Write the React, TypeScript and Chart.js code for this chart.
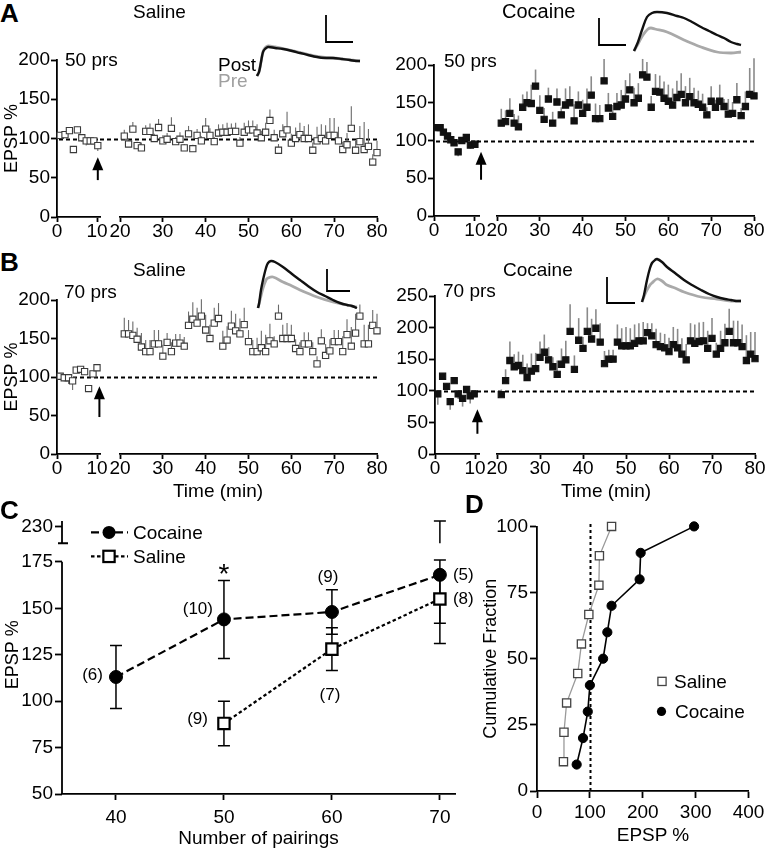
import React, { useEffect, useRef } from "react";
import { Chart, registerables } from "chart.js";

Chart.register(...registerables);

const FONT = "'Liberation Sans', Arial, Helvetica, sans-serif";
Chart.defaults.font.family = FONT;

// ===================== DATA =====================
// time bins (min) after pairing, shared by the four time courses
const T_RIGHT = Array.from({ length: 60 }, (_, i) => 21 + i);
const TICKS_LEFT = [0, 10];
const TICKS_RIGHT = [20, 30, 40, 50, 60, 70, 80];
const Y_TICKS_200 = [0, 50, 100, 150, 200];
const Y_TICKS_250 = [0, 50, 100, 150, 200, 250];

// A – Saline, 50 pairings
const A_SAL_BASE_T = [0.8, 2, 3.1, 4.1, 5.1, 6.2, 7.3, 8.3, 9.2, 10.2];
const A_SAL_BASE_V = [104, 105, 110, 86, 111, 101, 97, 97, 97, 91];
const A_SAL_BASE_E = [3, 3, 4, -4, 4, -5, -6, -4, -4, -7];
const A_SAL_POST_V = [103, 93, 112, 91, 88, 109, 109, 100, 114, 97, 99, 113, 96, 99, 88, 106, 87, 104, 97, 112, 104, 96, 107, 108, 108, 109, 109, 94, 108, 111, 111, 107, 101, 108, 123, 101, 85, 106, 111, 94, 100, 105, 100, 100, 85, 97, 100, 97, 104, 104, 97, 86, 92, 113, 85, 96, 86, 90, 70, 82];
const A_SAL_POST_E = [8, 6, 9, 5, 7, 8, 10, 6, 11, 7, 8, 14, 6, 9, 5, 10, 5, 8, 6, 14, 9, 6, 11, 10, 12, 10, 11, 8, 12, 12, 12, 11, 9, 12, 14, 10, 8, 12, 23, 12, 14, 15, 16, 18, 10, 18, 18, 20, 22, 22, 18, 10, 15, 28, 12, 20, 35, 22, 10, 15];

// A – Cocaine, 50 pairings
const A_COC_BASE_T = [0.7, 1.5, 2.3, 3.3, 4.1, 4.9, 5.9, 6.8, 7.9, 8.9, 10];
const A_COC_BASE_V = [117, 117, 111, 106, 101, 97, 85, 100, 104, 94, 95];
const A_COC_BASE_E = [3, 3, 3, 3, 3, -4, -6, 3, 3, -5, -4];
const A_COC_POST_V = [123, 125, 136, 123, 118, 144, 150, 149, 172, 140, 128, 155, 123, 151, 134, 147, 150, 126, 147, 136, 144, 160, 129, 129, 179, 143, 132, 145, 147, 155, 167, 150, 156, 187, 184, 144, 165, 164, 156, 152, 147, 157, 161, 150, 158, 150, 148, 144, 134, 152, 144, 152, 145, 135, 136, 154, 133, 145, 161, 159];
const A_COC_POST_E = [19, 15, 20, 12, 15, 17, 15, 25, 22, 20, 15, 15, 15, 18, 10, 22, 22, 22, 18, 18, 25, 25, 20, 18, 29, 20, 15, 18, 20, 25, 22, 20, 20, 21, 20, 15, 23, 22, 22, 22, 22, 22, 28, 22, 25, 20, 18, 18, 10, 20, 10, 22, 10, 20, 15, 22, 10, 20, 35, 50];

// B – Saline, 70 pairings
const B_SAL_BASE_T = [0.8, 1.8, 2.9, 3.9, 4.8, 5.9, 6.9, 7.9, 9, 10];
const B_SAL_BASE_V = [101, 99, 99, 95, 109, 110, 107, 85, 104, 112];
const B_SAL_BASE_E = [-3, -5, -8, -12, 3, 3, -4, -4, 3, 3];
const B_SAL_POST_V = [156, 156, 154, 149, 139, 133, 133, 143, 143, 127, 145, 133, 144, 144, 140, 167, 175, 170, 179, 161, 150, 170, 176, 140, 148, 166, 160, 156, 168, 146, 133, 133, 138, 133, 147, 143, 179, 150, 150, 150, 137, 133, 143, 143, 133, 117, 147, 128, 134, 146, 146, 133, 155, 140, 157, 179, 143, 143, 167, 160];
const B_SAL_POST_E = [21, 18, 18, 15, 18, 15, 15, 18, 18, 15, 12, 12, 12, 12, 12, 18, 22, 20, 22, 20, 18, 20, 20, 20, 18, 20, 22, 20, 22, 15, 15, 18, 22, 22, 22, 10, 15, 18, 20, 18, 12, 12, 15, 15, 12, 10, 15, 15, 15, 15, 15, 20, 20, 25, 25, 15, 25, 25, 20, 22];

// B – Cocaine, 70 pairings
const B_COC_BASE_T = [0.7, 1.9, 2.9, 3.8, 4.8, 5.8, 6.9, 7.9, 8.8, 9.8];
const B_COC_BASE_V = [95, 123, 107, 83, 116, 95, 88, 102, 92, 95];
const B_COC_BASE_E = [-17, 5, 5, -13, 5, -8, -13, 5, -12, -5];
const B_COC_POST_V = [94, 116, 148, 138, 140, 132, 121, 131, 135, 153, 161, 149, 138, 126, 142, 149, 194, 134, 180, 167, 194, 182, 199, 177, 143, 150, 150, 177, 171, 171, 171, 175, 179, 179, 192, 187, 173, 170, 168, 162, 173, 168, 158, 149, 179, 175, 178, 179, 167, 183, 158, 167, 176, 194, 176, 176, 170, 148, 158, 151];
const B_COC_POST_E = [8, 18, 30, 20, 22, 25, 22, 28, 25, 25, 28, 20, 15, 22, 25, 30, 43, 22, 35, 18, 38, 32, 30, 30, 20, 15, 15, 28, 28, 30, 28, 30, 28, 30, 15, 20, 25, 22, 22, 22, 28, 30, 25, 25, 28, 30, 30, 30, 28, 32, 18, 28, 30, 36, 35, 35, 35, 40, 35, 42];

// Example EPSP traces (time in ms, amplitude in mV) + scale bars
const TR_AS_POST_T = [7, 9, 11, 13, 15, 18, 25, 33, 42, 50, 58, 67, 75, 83, 92, 100, 106, 110];
const TR_AS_POST_A = [0.4, 0.8, 1.8, 2.8, 3.1, 3.3, 3.2, 3.1, 2.9, 2.7, 2.5, 2.3, 2.2, 2.2, 2.1, 2.0, 1.9, 1.9];
const TR_AS_PRE_T = TR_AS_POST_T;
const TR_AS_PRE_A = [0.4, 0.8, 1.8, 2.8, 3.2, 3.4, 3.3, 3.15, 2.95, 2.75, 2.55, 2.35, 2.25, 2.2, 2.1, 2.0, 1.95, 1.9];
const TR_AS_BAR_T = [76, 76, 103];
const TR_AS_BAR_A = [6.5, 3.8, 3.8];

const TR_AC_POST_T = [44, 48, 52, 57, 62, 67, 77, 87, 94, 102, 111, 119, 127, 134, 141, 147, 151];
const TR_AC_POST_A = [0.9, 1.8, 3.0, 4.3, 4.7, 4.8, 4.7, 4.4, 4.2, 3.8, 3.3, 2.9, 2.5, 2.2, 1.8, 1.6, 1.5];
const TR_AC_PRE_T = [44, 48, 53, 58, 61, 65, 77, 94, 111, 127, 141, 151];
const TR_AC_PRE_A = [0.9, 1.6, 2.5, 3.1, 3.2, 3.1, 2.8, 2.0, 1.3, 0.8, 0.7, 0.8];
const TR_AC_BAR_T = [9, 9, 36];
const TR_AC_BAR_A = [4.2, 1.5, 1.5];

const TR_BS_POST_T = [8, 9, 11, 13, 16, 18, 21, 25, 33, 42, 50, 58, 67, 75, 83, 90, 97, 102, 107];
const TR_BS_POST_A = [0.7, 1.1, 2.5, 3.5, 4.7, 5.2, 5.4, 5.3, 4.8, 4.1, 3.5, 2.9, 2.3, 1.9, 1.5, 1.2, 1.0, 0.9, 0.7];
const TR_BS_PRE_T = [8, 10, 13, 16, 18, 23, 33, 42, 50, 67, 83, 97, 107];
const TR_BS_PRE_A = [0.7, 1.5, 2.7, 3.5, 3.7, 3.8, 3.3, 2.9, 2.5, 1.8, 1.3, 1.0, 0.8];
const TR_BS_BAR_T = [77, 77, 100];
const TR_BS_BAR_A = [4.6, 2.4, 2.4];

const TR_BC_POST_T = [42, 44, 47, 50, 52, 55, 57, 62, 67, 75, 84, 92, 101, 109, 117, 125, 131, 136, 141];
const TR_BC_POST_A = [0.8, 1.5, 3.0, 4.2, 4.7, 5.0, 5.1, 4.8, 4.3, 3.7, 3.0, 2.5, 2.0, 1.6, 1.3, 1.1, 1.0, 0.9, 0.9];
const TR_BC_PRE_T = [42, 46, 50, 52, 57, 62, 67, 75, 84, 101, 117, 131, 141];
const TR_BC_PRE_A = [0.8, 1.8, 2.5, 2.7, 3.1, 2.9, 2.5, 2.2, 1.8, 1.3, 1.1, 0.9, 0.9];
const TR_BC_BAR_T = [7, 7, 35];
const TR_BC_BAR_A = [3.3, 0.7, 0.7];

// C – EPSP % vs number of pairings
const C_PAIRINGS = [40, 50, 60, 70];
const C_COC_MEAN = [113, 144, 148, 168];
const C_COC_SEM = [17, 21, 12, 37];
const C_COC_N = [6, 10, 9, 5];
const C_SAL_MEAN = [null, 88, 128, 155];
const C_SAL_SEM = [null, 12, 11.5, 13];
const C_SAL_N = [null, 9, 7, 8];
const C_SIG = [false, true, false, false];
const C_Y_TICKS = [50, 75, 100, 125, 150, 175];
const C_X_TICKS = [40, 50, 60, 70];
const C_BREAK = { lo: 176, hi: 185, top: 197, tick: 194, label: "230" };

// D – cumulative fraction
const D_SAL_X = [50, 51, 56, 77, 84, 98, 117, 118, 141];
const D_SAL_Y = [11.1, 22.2, 33.3, 44.4, 55.6, 66.7, 77.8, 88.9, 100];
const D_COC_X = [75, 87, 96, 100, 125, 133, 141, 194, 196, 297];
const D_COC_Y = [10, 20, 30, 40, 50, 60, 70, 80, 90, 100];
const D_X_TICKS = [0, 100, 200, 300, 400];
const D_Y_TICKS = [0, 25, 50, 75, 100];

// ===================== HELPERS =====================
type Box = { left: number; top: number; width: number; height: number };

function frame(L: number, T: number, R: number, B: number, wY: number, hX: number, p: { l: number; t: number; r: number; b: number }) {
  const left = L - wY - p.l;
  const top = T - p.t;
  return {
    box: { left, top, width: R + p.r - left, height: B + hX + p.b - top },
    padding: { left: p.l, top: p.t, right: p.r, bottom: p.b },
  };
}

function ChartCanvas({ box, build }: { box: Box; build: () => any }) {
  const ref = useRef<HTMLCanvasElement>(null);
  useEffect(() => {
    const c = new Chart(ref.current as HTMLCanvasElement, build());
    return () => c.destroy();
  }, []);
  return (
    <canvas
      ref={ref}
      width={box.width}
      height={box.height}
      style={{ position: "absolute", left: box.left, top: box.top, width: box.width, height: box.height }}
    />
  );
}

function axis(min: number, max: number, ticks: number[], o: any) {
  const { horizontal = false, thick, tickLen = 6, pad = 2, font = 18, title, titleSize = 18, titlePad = 0, border = true, label } = o;
  return {
    type: "linear",
    min,
    max,
    afterBuildTicks: (s: any) => {
      s.ticks = ticks.map((v) => ({ value: v }));
    },
    afterFit: (s: any) => {
      if (horizontal) s.height = thick;
      else s.width = thick;
    },
    grid: { display: true, drawOnChartArea: false, drawTicks: true, tickLength: tickLen, tickWidth: 1.8, tickColor: "#000" },
    border: { display: border, color: "#000", width: 1.8 },
    ticks: {
      font: { family: FONT, size: font },
      color: "#000",
      padding: pad,
      maxRotation: 0,
      autoSkip: false,
      callback: label || ((v: any) => String(v)),
    },
    title: title
      ? { display: true, text: title, color: "#000", font: { family: FONT, size: titleSize }, padding: { top: titlePad, bottom: titlePad } }
      : { display: false },
  };
}

function baseOpts(padding: any, scales: any) {
  return {
    animation: false,
    responsive: false,
    maintainAspectRatio: false,
    events: [],
    layout: { padding },
    plugins: { legend: { display: false }, tooltip: { enabled: false }, title: { display: false } },
    scales,
  };
}

function pts(t: number[], v: number[], filled: boolean) {
  return {
    data: t.map((x, i) => ({ x, y: v[i] })),
    pointStyle: "rect",
    pointRadius: 4.4,
    pointBackgroundColor: filled ? "#111" : "#fff",
    pointBorderColor: filled ? "#111" : "#3a3a3a",
    pointBorderWidth: 1.1,
    showLine: false,
    clip: false,
  };
}

const baselinePlugin = (value: number, extendLeft: number) => ({
  id: "baseline",
  beforeDatasetsDraw(chart: any) {
    const { ctx, chartArea: a, scales } = chart;
    const py = Math.round(scales.y.getPixelForValue(value)) + 0.5;
    ctx.save();
    ctx.setLineDash([4, 3]);
    ctx.lineWidth = 1.8;
    ctx.strokeStyle = "#000";
    ctx.beginPath();
    ctx.moveTo(a.left - extendLeft, py);
    ctx.lineTo(a.right, py);
    ctx.stroke();
    ctx.restore();
  },
});

const errPlugin = (errs: number[], filled: boolean) => ({
  id: "errbars",
  beforeDatasetsDraw(chart: any) {
    const { ctx, scales } = chart;
    const meta = chart.getDatasetMeta(0);
    const data = chart.data.datasets[0].data;
    ctx.save();
    ctx.strokeStyle = filled ? "#8a8a8a" : "#6a6a6a";
    ctx.lineWidth = filled ? 1.6 : 1.1;
    meta.data.forEach((p: any, i: number) => {
      const e = errs[i];
      if (!e) return;
      const y2 = scales.y.getPixelForValue(data[i].y + e);
      ctx.beginPath();
      ctx.moveTo(p.x, p.y);
      ctx.lineTo(p.x, y2);
      ctx.stroke();
    });
    ctx.restore();
  },
});

const arrowPlugin = (xv: number, from: number, to: number) => ({
  id: "arrow",
  afterDatasetsDraw(chart: any) {
    const { ctx, scales } = chart;
    const px = scales.x.getPixelForValue(xv);
    const y1 = scales.y.getPixelForValue(from);
    const y2 = scales.y.getPixelForValue(to);
    ctx.save();
    ctx.strokeStyle = "#000";
    ctx.fillStyle = "#000";
    ctx.lineWidth = 2;
    ctx.beginPath();
    ctx.moveTo(px, y1);
    ctx.lineTo(px, y2 + 8);
    ctx.stroke();
    ctx.beginPath();
    ctx.moveTo(px, y2);
    ctx.lineTo(px - 5.5, y2 + 13);
    ctx.lineTo(px + 5.5, y2 + 13);
    ctx.closePath();
    ctx.fill();
    ctx.restore();
  },
});

// ===================== TIME COURSE PANELS =====================
const TC_PANELS = [
  { id: "AS", L: 57, Rl: 100, xMaxL: 10.75, Lr: 120, R: 377, T: 60, B: 217, wY: 57, yMax: 200, yTicks: Y_TICKS_200,
    tL: A_SAL_BASE_T, vL: A_SAL_BASE_V, eL: A_SAL_BASE_E, vR: A_SAL_POST_V, eR: A_SAL_POST_E, filled: false, yTitle: "EPSP %", arrow: [10.2, 47, 76] },
  { id: "AC", L: 434, Rl: 479, xMaxL: 11, Lr: 497, R: 754, T: 65, B: 216, wY: 45, yMax: 200, yTicks: Y_TICKS_200,
    tL: A_COC_BASE_T, vL: A_COC_BASE_V, eL: A_COC_BASE_E, vR: A_COC_POST_V, eR: A_COC_POST_E, filled: true, yTitle: "", arrow: [11.5, 48, 85] },
  { id: "BS", L: 57, Rl: 100, xMaxL: 10.75, Lr: 120, R: 377, T: 300, B: 454, wY: 57, yMax: 200, yTicks: Y_TICKS_200,
    tL: B_SAL_BASE_T, vL: B_SAL_BASE_V, eL: B_SAL_BASE_E, vR: B_SAL_POST_V, eR: B_SAL_POST_E, filled: false, yTitle: "EPSP %", arrow: [10.6, 48, 88] },
  { id: "BC", L: 435, Rl: 479, xMaxL: 11, Lr: 497, R: 755, T: 296, B: 454, wY: 46, yMax: 250, yTicks: Y_TICKS_250,
    tL: B_COC_BASE_T, vL: B_COC_BASE_V, eL: B_COC_BASE_E, vR: B_COC_POST_V, eR: B_COC_POST_E, filled: true, yTitle: "", arrow: [10.6, 32, 71] },
];

const X_AX = { horizontal: true, thick: 30, tickLen: 5, pad: -1.5, font: 19 };

function tcLeft(s: any, padding: any) {
  return {
    type: "scatter",
    data: { datasets: [pts(s.tL, s.vL, s.filled)] },
    options: baseOpts(padding, {
      x: axis(0, s.xMaxL, TICKS_LEFT, X_AX),
      y: axis(0, s.yMax, s.yTicks, { thick: s.wY, tickLen: 6, pad: 1, font: 19, title: s.yTitle, titleSize: 18, titlePad: 1 }),
    }),
    plugins: [baselinePlugin(100, -2), errPlugin(s.eL, s.filled), arrowPlugin(s.arrow[0], s.arrow[1], s.arrow[2])],
  };
}

function tcRight(s: any, padding: any) {
  return {
    type: "scatter",
    data: { datasets: [pts(T_RIGHT, s.vR, s.filled)] },
    options: baseOpts(padding, {
      x: axis(20, 80, TICKS_RIGHT, X_AX),
      y: { type: "linear", display: false, min: 0, max: s.yMax },
    }),
    plugins: [baselinePlugin(100, 20), errPlugin(s.eR, s.filled)],
  };
}

function TimeCourse({ s }: { s: any }) {
  const fl = frame(s.L, s.T, s.Rl, s.B, s.wY, 30, { l: 0, t: 14, r: 14, b: 0 });
  const fr = frame(s.Lr, s.T, s.R, s.B, 0, 30, { l: 24, t: 14, r: 13, b: 0 });
  return (
    <>
      <ChartCanvas box={fl.box} build={() => tcLeft(s, fl.padding)} />
      <ChartCanvas box={fr.box} build={() => tcRight(s, fr.padding)} />
    </>
  );
}

// ===================== INSET TRACES =====================
const INSETS = [
  { id: "iAS", box: { left: 250, top: 10, width: 115, height: 70 }, preT: TR_AS_PRE_T, preA: TR_AS_PRE_A, postT: TR_AS_POST_T, postA: TR_AS_POST_A, barT: TR_AS_BAR_T, barA: TR_AS_BAR_A },
  { id: "iAC", box: { left: 590, top: 5, width: 160, height: 55 }, preT: TR_AC_PRE_T, preA: TR_AC_PRE_A, postT: TR_AC_POST_T, postA: TR_AC_POST_A, barT: TR_AC_BAR_T, barA: TR_AC_BAR_A },
  { id: "iBS", box: { left: 250, top: 255, width: 115, height: 60 }, preT: TR_BS_PRE_T, preA: TR_BS_PRE_A, postT: TR_BS_POST_T, postA: TR_BS_POST_A, barT: TR_BS_BAR_T, barA: TR_BS_BAR_A },
  { id: "iBC", box: { left: 600, top: 250, width: 150, height: 60 }, preT: TR_BC_PRE_T, preA: TR_BC_PRE_A, postT: TR_BC_POST_T, postA: TR_BC_POST_A, barT: TR_BC_BAR_T, barA: TR_BC_BAR_A },
];

function traceDs(t: number[], a: number[], color: string, width: number, tension: number) {
  return {
    data: t.map((x, i) => ({ x, y: a[i] })),
    borderColor: color,
    borderWidth: width,
    pointRadius: 0,
    tension,
    fill: false,
    clip: false,
    borderCapStyle: "butt",
  };
}

function insetConfig(ins: any) {
  return {
    type: "line",
    data: {
      datasets: [
        traceDs(ins.barT, ins.barA, "#000", 1.8, 0),
        traceDs(ins.postT, ins.postA, "#111", 2.4, 0.35),
        traceDs(ins.preT, ins.preA, "#a9a9a9", 2.8, 0.35),
      ],
    },
    options: baseOpts(
      { left: 0, top: 0, right: 0, bottom: 0 },
      {
        x: { type: "linear", display: false, min: 0, max: ins.box.width },
        y: { type: "linear", display: false, min: 0, max: ins.box.height / 10 },
      }
    ),
  };
}

// ===================== PANEL C =====================
const C_FRAME = frame(62, 512, 455, 794, 62, 56, { l: 0, t: 10, r: 28, b: 0 });
const C_NPOS_COC: any[] = [[-13, -2, "right"], [-11, -10, "right"], [-4, -35, "center"], [13, 0, "left"]];
const C_NPOS_SAL: any[] = [null, [-16, -4, "right"], [-2, 46, "center"], [13, 0, "left"]];

const cAxisPlugin = {
  id: "cAxis",
  afterDraw(chart: any) {
    const { ctx, chartArea: a, scales } = chart;
    const y = scales.y;
    const x0 = Math.round(a.left);
    ctx.save();
    ctx.strokeStyle = "#000";
    ctx.lineWidth = 1.8;
    ctx.beginPath();
    ctx.moveTo(x0, y.getPixelForValue(50));
    ctx.lineTo(x0, y.getPixelForValue(175));
    ctx.moveTo(x0, y.getPixelForValue(C_BREAK.hi));
    ctx.lineTo(x0, y.getPixelForValue(C_BREAK.top));
    ctx.moveTo(x0 - 4, y.getPixelForValue(C_BREAK.hi));
    ctx.lineTo(x0 + 6, y.getPixelForValue(C_BREAK.hi));
    ctx.stroke();
    ctx.restore();
  },
};

const cErrPlugin = {
  id: "cErr",
  beforeDatasetsDraw(chart: any) {
    const { ctx, scales } = chart;
    const { x, y } = scales;
    ctx.save();
    ctx.strokeStyle = "#000";
    ctx.lineWidth = 1.5;
    const seg = (px: number, a: number, b: number, capA: boolean, capB: boolean) => {
      const ya = y.getPixelForValue(a), yb = y.getPixelForValue(b);
      ctx.beginPath();
      ctx.moveTo(px, ya);
      ctx.lineTo(px, yb);
      if (capA) { ctx.moveTo(px - 6, ya); ctx.lineTo(px + 6, ya); }
      if (capB) { ctx.moveTo(px - 6, yb); ctx.lineTo(px + 6, yb); }
      ctx.stroke();
    };
    [[C_COC_MEAN, C_COC_SEM], [C_SAL_MEAN, C_SAL_SEM]].forEach(([m, e]: any) => {
      C_PAIRINGS.forEach((xv, i) => {
        if (m[i] == null) return;
        const px = x.getPixelForValue(xv);
        const lo = m[i] - e[i], hi = m[i] + e[i];
        if (hi > C_BREAK.lo) {
          seg(px, lo, C_BREAK.lo, true, true);
          seg(px, C_BREAK.hi, C_BREAK.top, false, true);
        } else seg(px, lo, hi, true, true);
      });
    });
    ctx.restore();
  },
};

const cLabelPlugin = {
  id: "cLabels",
  afterDatasetsDraw(chart: any) {
    const { ctx, scales } = chart;
    const { x, y } = scales;
    ctx.save();
    ctx.fillStyle = "#000";
    ctx.textBaseline = "middle";
    ctx.font = `17px ${FONT}`;
    const draw = (m: any[], n: any[], pos: any[]) =>
      C_PAIRINGS.forEach((xv, i) => {
        if (m[i] == null || !pos[i]) return;
        ctx.textAlign = pos[i][2];
        ctx.fillText(`(${n[i]})`, x.getPixelForValue(xv) + pos[i][0], y.getPixelForValue(m[i]) + pos[i][1]);
      });
    draw(C_COC_MEAN, C_COC_N, C_NPOS_COC);
    draw(C_SAL_MEAN, C_SAL_N, C_NPOS_SAL);
    ctx.font = `28px ${FONT}`;
    ctx.textAlign = "center";
    ctx.textBaseline = "alphabetic";
    C_PAIRINGS.forEach((xv, i) => {
      if (!C_SIG[i]) return;
      ctx.fillText("*", x.getPixelForValue(xv), y.getPixelForValue(C_COC_MEAN[i] + C_COC_SEM[i]) + 3);
    });
    ctx.restore();
  },
};

const cLegendPlugin = {
  id: "cLegend",
  afterDraw(chart: any) {
    const { ctx, chartArea: a } = chart;
    const rows = [
      { ds: 0, label: "Cocaine", dy: 17 },
      { ds: 1, label: "Saline", dy: 41 },
    ];
    rows.forEach((r) => {
      const d = chart.data.datasets[r.ds];
      const yy = a.top + r.dy;
      ctx.save();
      ctx.strokeStyle = "#000";
      ctx.lineWidth = d.borderWidth;
      ctx.setLineDash(d.borderDash);
      ctx.beginPath();
      ctx.moveTo(a.left + 29, yy);
      ctx.lineTo(a.left + 66, yy);
      ctx.stroke();
      ctx.setLineDash([]);
      const xm = a.left + 47;
      if (d.pointStyle === "circle") {
        ctx.fillStyle = "#000";
        ctx.beginPath();
        ctx.arc(xm, yy, d.pointRadius, 0, Math.PI * 2);
        ctx.fill();
      } else {
        const h = d.pointRadius * Math.SQRT1_2;
        ctx.fillStyle = "#fff";
        ctx.lineWidth = d.pointBorderWidth;
        ctx.fillRect(xm - h, yy - h, 2 * h, 2 * h);
        ctx.strokeRect(xm - h, yy - h, 2 * h, 2 * h);
      }
      ctx.fillStyle = "#000";
      ctx.font = `19px ${FONT}`;
      ctx.textBaseline = "middle";
      ctx.textAlign = "left";
      ctx.fillText(r.label, a.left + 71, yy + 1);
      ctx.restore();
    });
  },
};

function buildC() {
  const salPts: any[] = [];
  C_PAIRINGS.forEach((x, i) => {
    if (C_SAL_MEAN[i] != null) salPts.push({ x, y: C_SAL_MEAN[i] });
  });
  return {
    type: "line",
    data: {
      datasets: [
        {
          label: "Cocaine",
          data: C_PAIRINGS.map((x, i) => ({ x, y: C_COC_MEAN[i] })),
          borderColor: "#000",
          borderWidth: 2.2,
          borderDash: [8, 4],
          pointStyle: "circle",
          pointRadius: 6.5,
          pointBackgroundColor: "#000",
          pointBorderColor: "#000",
          pointBorderWidth: 1,
          clip: false,
        },
        {
          label: "Saline",
          data: salPts,
          borderColor: "#000",
          borderWidth: 2.2,
          borderDash: [3.5, 2.5],
          pointStyle: "rect",
          pointRadius: 8,
          pointBackgroundColor: "#fff",
          pointBorderColor: "#000",
          pointBorderWidth: 2.2,
          clip: false,
        },
      ],
    },
    options: baseOpts(C_FRAME.padding, {
      x: axis(35, 71.4, C_X_TICKS, { horizontal: true, thick: 56, tickLen: 6, pad: 6, font: 19, title: "Number of pairings", titleSize: 19, titlePad: 0 }),
      y: axis(50, 200, [...C_Y_TICKS, C_BREAK.tick], {
        thick: 62, tickLen: 7, pad: 2, font: 19, title: "EPSP %", titleSize: 18, titlePad: 2, border: false,
        label: (v: any) => (v === C_BREAK.tick ? C_BREAK.label : String(v)),
      }),
    }),
    plugins: [cErrPlugin, cAxisPlugin, cLabelPlugin, cLegendPlugin],
  };
}

// ===================== PANEL D =====================
const D_FRAME = frame(537, 525, 749, 791, 67, 56, { l: 0, t: 12, r: 19, b: 0 });

const dRefPlugin = {
  id: "dRef",
  beforeDatasetsDraw(chart: any) {
    const { ctx, chartArea: a, scales } = chart;
    const px = Math.round(scales.x.getPixelForValue(100)) + 0.5;
    ctx.save();
    ctx.setLineDash([3, 3]);
    ctx.lineWidth = 2;
    ctx.strokeStyle = "#000";
    ctx.beginPath();
    ctx.moveTo(px, a.bottom);
    ctx.lineTo(px, a.top - 5);
    ctx.stroke();
    ctx.restore();
  },
};

const dLegendPlugin = {
  id: "dLegend",
  afterDraw(chart: any) {
    const { ctx, chartArea: a } = chart;
    const sal = chart.data.datasets[0];
    const coc = chart.data.datasets[1];
    ctx.save();
    const h = sal.pointRadius * Math.SQRT1_2;
    const sx = a.left + 125, sy = a.top + 155;
    ctx.fillStyle = "#fff";
    ctx.strokeStyle = sal.pointBorderColor;
    ctx.lineWidth = sal.pointBorderWidth;
    ctx.fillRect(sx - h, sy - h, 2 * h, 2 * h);
    ctx.strokeRect(sx - h, sy - h, 2 * h, 2 * h);
    const cx = a.left + 124.5, cy = a.top + 185;
    ctx.fillStyle = coc.pointBackgroundColor;
    ctx.beginPath();
    ctx.arc(cx, cy, coc.pointRadius, 0, Math.PI * 2);
    ctx.fill();
    ctx.fillStyle = "#000";
    ctx.font = `19px ${FONT}`;
    ctx.textBaseline = "middle";
    ctx.fillText("Saline", a.left + 137, sy + 1);
    ctx.fillText("Cocaine", a.left + 138, cy + 1);
    ctx.restore();
  },
};

function buildD() {
  return {
    type: "line",
    data: {
      datasets: [
        {
          label: "Saline",
          data: D_SAL_X.map((x, i) => ({ x, y: D_SAL_Y[i] })),
          borderColor: "#9a9a9a",
          borderWidth: 1.3,
          pointStyle: "rect",
          pointRadius: 5.8,
          pointBackgroundColor: "#fff",
          pointBorderColor: "#444",
          pointBorderWidth: 1.3,
          clip: false,
        },
        {
          label: "Cocaine",
          data: D_COC_X.map((x, i) => ({ x, y: D_COC_Y[i] })),
          borderColor: "#000",
          borderWidth: 1.6,
          pointStyle: "circle",
          pointRadius: 4.6,
          pointBackgroundColor: "#000",
          pointBorderColor: "#000",
          pointBorderWidth: 1,
          clip: false,
        },
      ],
    },
    options: baseOpts(D_FRAME.padding, {
      x: axis(0, 400, D_X_TICKS, { horizontal: true, thick: 56, tickLen: 7, pad: 3.6, font: 19 }),
      y: axis(0, 100, D_Y_TICKS, { thick: 67, tickLen: 7, pad: 2, font: 19, title: "Cumulative Fraction", titleSize: 18, titlePad: 10.6 }),
    }),
    plugins: [dRefPlugin, dLegendPlugin],
  };
}

// ===================== TEXT =====================
function Txt({ x, y, size = 19, align = "left", color = "#000", bold = false, children }: any) {
  const tx = align === "center" ? "-50%" : align === "right" ? "-100%" : "0";
  return (
    <div
      style={{
        position: "absolute",
        left: x,
        top: y - 0.8465 * size,
        fontFamily: FONT,
        fontSize: size,
        lineHeight: `${size}px`,
        fontWeight: bold ? "bold" : "normal",
        color,
        whiteSpace: "nowrap",
        transform: `translateX(${tx})`,
      }}
    >
      {children}
    </div>
  );
}

export default function App() {
  return (
    <div style={{ position: "absolute", left: 0, top: 0, width: 768, height: 853, background: "#fff", overflow: "hidden" }}>
      {TC_PANELS.map((p) => (
        <TimeCourse key={p.id} s={p} />
      ))}
      {INSETS.map((ins) => (
        <ChartCanvas key={ins.id} box={ins.box} build={() => insetConfig(ins)} />
      ))}
      <ChartCanvas box={C_FRAME.box} build={buildC} />
      <ChartCanvas box={D_FRAME.box} build={buildD} />

      <Txt x={0} y={22} size={26} bold>A</Txt>
      <Txt x={0} y={271} size={26} bold>B</Txt>
      <Txt x={0} y={519} size={26} bold>C</Txt>
      <Txt x={465} y={513} size={26} bold>D</Txt>

      <Txt x={133} y={18}>Saline</Txt>
      <Txt x={502} y={18} size={20}>Cocaine</Txt>
      <Txt x={65} y={66}>50 prs</Txt>
      <Txt x={444} y={67}>50 prs</Txt>
      <Txt x={218} y={71}>Post</Txt>
      <Txt x={218} y={87} color="#a0a0a0">Pre</Txt>

      <Txt x={133} y={276}>Saline</Txt>
      <Txt x={503} y={276}>Cocaine</Txt>
      <Txt x={64} y={298}>70 prs</Txt>
      <Txt x={443} y={297}>70 prs</Txt>
      <Txt x={218} y={497} align="center">Time (min)</Txt>
      <Txt x={606} y={497} align="center">Time (min)</Txt>
      <Txt x={653} y={841} align="center">EPSP %</Txt>
    </div>
  );
}
